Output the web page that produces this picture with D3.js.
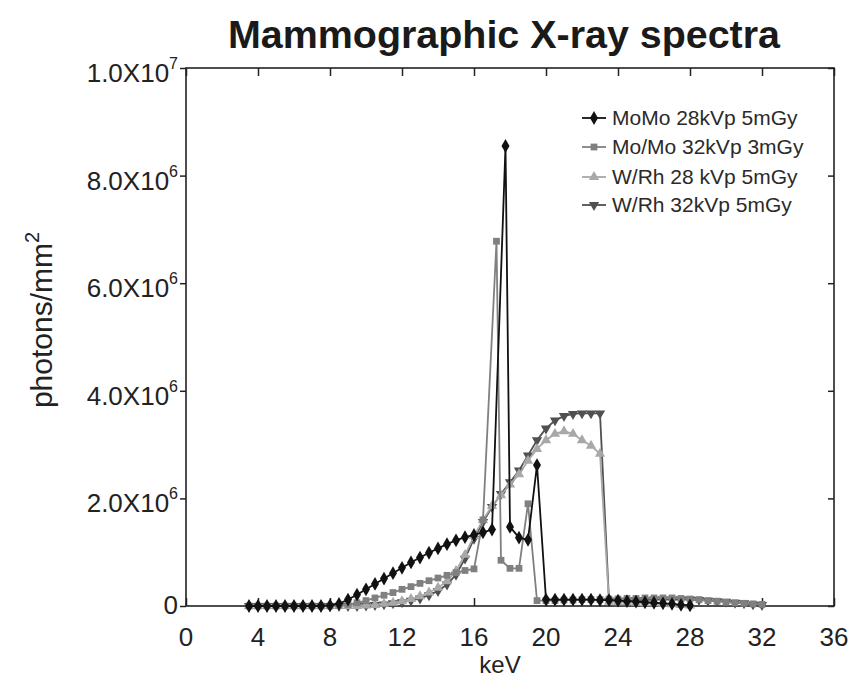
<!DOCTYPE html>
<html>
<head>
  <meta charset="utf-8">
  <title>Mammographic X-ray spectra</title>
  <script src="https://d3js.org/d3.v7.min.js"></script>
  <style>
    body { margin: 0; background: #fff; }
    svg { font-family: "Liberation Sans", Arial, sans-serif; }
    .frame { fill: none; stroke: #222; stroke-width: 1.6; }
    .axis path { display: none; }
    .axis line { stroke: #222; stroke-width: 1.5; }
    .tick-label { font-size: 26px; fill: #222; }
    .series { fill: none; stroke-width: 1.8; }
    .legend text { font-size: 21px; fill: #2a2a2a; }
  </style>
</head>
<body>
  <svg id="chart" width="852" height="685"></svg>

  <script>
    // energies (keV) and photon fluence (x10^6 photons/mm^2)
    const moMo28E = [3.5, 4, 4.5, 5, 5.5, 6, 6.5, 7, 7.5, 8, 8.5, 9, 9.5, 10, 10.5, 11, 11.5, 12,
      12.5, 13, 13.5, 14, 14.5, 15, 15.5, 16, 16.5, 17, 17.75, 18, 18.5, 19, 19.5, 20, 20.5, 21,
      21.5, 22, 22.5, 23, 23.5, 24, 24.5, 25, 25.5, 26, 26.5, 27, 27.5, 28];
    const moMo28 = [0, 0, 0, 0, 0, 0, 0, 0, 0, 0.01, 0.04, 0.12, 0.21, 0.31, 0.41, 0.51, 0.61, 0.71,
      0.81, 0.9, 0.99, 1.07, 1.15, 1.22, 1.28, 1.32, 1.37, 1.42, 8.55, 1.47, 1.27, 1.23, 2.62, 0.12, 0.12, 0.12,
      0.12, 0.12, 0.12, 0.11, 0.11, 0.1, 0.09, 0.08, 0.07, 0.06, 0.05, 0.04, 0.02, 0.01];

    const moMo32E = [3.5, 4, 4.5, 5, 5.5, 6, 6.5, 7, 7.5, 8, 8.5, 9, 9.5, 10, 10.5, 11, 11.5, 12,
      12.5, 13, 13.5, 14, 14.5, 15, 15.5, 16, 16.5, 17.25, 17.5, 18, 18.5, 19, 19.5, 20, 20.5, 21,
      21.5, 22, 22.5, 23, 23.5, 24, 24.5, 25, 25.5, 26, 26.5, 27, 27.5, 28, 28.5, 29, 29.5, 30,
      30.5, 31, 31.5, 32];
    const moMo32 = [0, 0, 0, 0, 0, 0, 0, 0, 0, 0, 0.01, 0.03, 0.06, 0.1, 0.15, 0.2, 0.25, 0.31,
      0.36, 0.42, 0.47, 0.52, 0.57, 0.62, 0.66, 0.69, 1.6, 6.78, 0.85, 0.7, 0.7, 1.9, 0.1, 0.1, 0.1, 0.11,
      0.11, 0.12, 0.12, 0.12, 0.13, 0.13, 0.14, 0.14, 0.15, 0.15, 0.15, 0.15, 0.14, 0.13, 0.12, 0.1,
      0.09, 0.07, 0.06, 0.05, 0.04, 0.03];

    const wRh28E = [3.5, 4, 4.5, 5, 5.5, 6, 6.5, 7, 7.5, 8, 8.5, 9, 9.5, 10, 10.5, 11, 11.5, 12,
      12.5, 13, 13.5, 14, 14.5, 15, 15.5, 16, 16.5, 17, 17.5, 18, 18.5, 19, 19.5, 20, 20.5, 21,
      21.5, 22, 22.5, 23, 23.5, 24, 24.5, 25, 25.5, 26, 26.5, 27, 27.5, 28];
    const wRh28 = [0, 0, 0, 0, 0, 0, 0, 0, 0, 0, 0, 0, 0, 0.01, 0.02, 0.04, 0.06, 0.09,
      0.13, 0.18, 0.25, 0.34, 0.46, 0.65, 0.95, 1.3, 1.6, 1.86, 2.06, 2.26, 2.45, 2.7, 2.92, 3.08, 3.2, 3.25,
      3.2, 3.08, 2.98, 2.83, 0.08, 0.07, 0.07, 0.06, 0.05, 0.05, 0.04, 0.03, 0.02, 0.01];

    const wRh32E = [3.5, 4, 4.5, 5, 5.5, 6, 6.5, 7, 7.5, 8, 8.5, 9, 9.5, 10, 10.5, 11, 11.5, 12,
      12.5, 13, 13.5, 14, 14.5, 15, 15.5, 16, 16.5, 17, 17.5, 18, 18.5, 19, 19.5, 20, 20.5, 21,
      21.5, 22, 22.5, 23, 23.5, 24, 24.5, 25, 25.5, 26, 26.5, 27, 27.5, 28, 28.5, 29, 29.5, 30,
      30.5, 31, 31.5, 32];
    const wRh32 = [0, 0, 0, 0, 0, 0, 0, 0, 0, 0, 0, 0, 0, 0.01, 0.02, 0.03, 0.05, 0.07,
      0.1, 0.14, 0.2, 0.28, 0.4, 0.58, 0.88, 1.25, 1.56, 1.84, 2.08, 2.3, 2.52, 2.8, 3.08, 3.3, 3.45, 3.53,
      3.57, 3.58, 3.58, 3.58, 0.1, 0.1, 0.1, 0.11, 0.11, 0.12, 0.12, 0.12, 0.12, 0.12, 0.11, 0.1,
      0.09, 0.08, 0.06, 0.05, 0.03, 0.02];

    const seriesNames = ["MoMo 28kVp 5mGy", "Mo/Mo 32kVp 3mGy", "W/Rh 28 kVp 5mGy", "W/Rh 32kVp 5mGy"];
    const xTicks = [0, 4, 8, 12, 16, 20, 24, 28, 32, 36];
    const yTicks = [0, 2, 4, 6, 8, 10];

    const series = [
      { name: seriesNames[0], pts: d3.zip(moMo28E, moMo28), color: "#111", shape: d3.symbolDiamond, size: 55, rot: 0 },
      { name: seriesNames[1], pts: d3.zip(moMo32E, moMo32), color: "#808080", shape: d3.symbolSquare, size: 46, rot: 0 },
      { name: seriesNames[2], pts: d3.zip(wRh28E, wRh28), color: "#a8a8a8", shape: d3.symbolTriangle, size: 46, rot: 0 },
      { name: seriesNames[3], pts: d3.zip(wRh32E, wRh32), color: "#505050", shape: d3.symbolTriangle, size: 46, rot: 180 }
    ];

    const svg = d3.select("#chart");
    const plotL = 186, plotR = 834, plotT = 68, plotB = 606;

    const x = d3.scaleLinear().domain([0, 36]).range([plotL, plotR]);
    const y = d3.scaleLinear().domain([0, 10]).range([plotB, plotT]);

    // title
    svg.append("text")
      .attr("x", 504).attr("y", 48)
      .attr("text-anchor", "middle")
      .attr("textLength", 552).attr("lengthAdjust", "spacingAndGlyphs")
      .style("font-size", "38px").style("font-weight", "bold").style("fill", "#1a1a1a")
      .text("Mammographic X-ray spectra");

    // axes (ticks only, frame drawn separately)
    svg.append("g").attr("class", "axis")
      .attr("transform", `translate(0,${plotB})`)
      .call(d3.axisBottom(x).tickValues(xTicks).tickSize(-8).tickFormat(""));
    svg.append("g").attr("class", "axis")
      .attr("transform", `translate(0,${plotT})`)
      .call(d3.axisTop(x).tickValues(xTicks).tickSize(-8).tickFormat(""));
    svg.append("g").attr("class", "axis")
      .attr("transform", `translate(${plotL},0)`)
      .call(d3.axisLeft(y).tickValues(yTicks).tickSize(6).tickFormat(""));
    svg.append("g").attr("class", "axis")
      .attr("transform", `translate(${plotR},0)`)
      .call(d3.axisRight(y).tickValues(yTicks).tickSize(-6).tickFormat(""));

    svg.append("rect").attr("class", "frame")
      .attr("x", plotL).attr("y", plotT)
      .attr("width", plotR - plotL).attr("height", plotB - plotT);

    // x tick labels
    svg.selectAll(".xlab").data(xTicks).enter().append("text")
      .attr("class", "tick-label")
      .attr("x", d => x(d)).attr("y", plotB + 40)
      .attr("text-anchor", "middle")
      .text(d => d);

    // y tick labels with superscript exponent
    yTicks.forEach(v => {
      const t = svg.append("text").attr("class", "tick-label")
        .attr("x", plotL - 8).attr("y", y(v) + (v === 0 ? 8 : 14))
        .attr("text-anchor", "end");
      if (v === 0) { t.text("0"); return; }
      const mant = v === 10 ? "1.0" : v.toFixed(1);
      const exp = v === 10 ? "7" : "6";
      t.append("tspan").text(mant + "X10");
      t.append("tspan").attr("dy", -13).style("font-size", "16px").text(exp);
    });

    // axis titles
    svg.append("text")
      .attr("x", 500).attr("y", 673)
      .attr("text-anchor", "middle")
      .style("font-size", "24px").style("fill", "#222")
      .text("keV");

    const yt = svg.append("text")
      .attr("transform", "translate(52,320) rotate(-90)")
      .attr("text-anchor", "middle")
      .style("font-size", "30px").style("fill", "#222");
    yt.append("tspan").text("photons/mm");
    yt.append("tspan").attr("dy", -13).style("font-size", "20px").text("2");

    // series
    const line = d3.line().x(d => x(d[0])).y(d => y(d[1]));
    const drawOrder = [3, 2, 1, 0];
    drawOrder.forEach(i => {
      const s = series[i];
      const g = svg.append("g");
      g.append("path").attr("class", "series")
        .attr("d", line(s.pts))
        .attr("stroke", s.color);
      g.selectAll("path.mk").data(s.pts).enter().append("path")
        .attr("class", "mk")
        .attr("d", d3.symbol().type(s.shape).size(s.size))
        .attr("transform", d => `translate(${x(d[0])},${y(d[1])}) rotate(${s.rot})`)
        .attr("fill", s.color);
    });

    // legend
    const legend = svg.append("g").attr("class", "legend");
    const rowY = [118, 147, 177, 205];
    series.forEach((s, i) => {
      const g = legend.append("g").attr("transform", `translate(594,${rowY[i]})`);
      g.append("line").attr("x1", -12).attr("x2", 12)
        .attr("stroke", s.color).attr("stroke-width", 1.8);
      g.append("path")
        .attr("d", d3.symbol().type(s.shape).size(s.size))
        .attr("transform", `rotate(${s.rot})`)
        .attr("fill", s.color);
      g.append("text").attr("x", 18).attr("y", 7).text(s.name);
    });
  </script>
</body>
</html>
